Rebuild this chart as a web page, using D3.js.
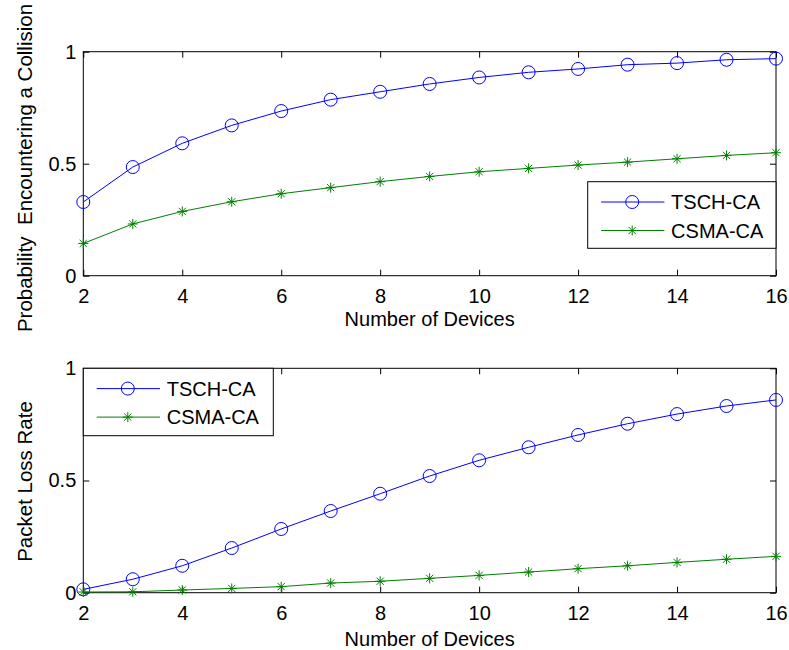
<!DOCTYPE html>
<html>
<head>
<meta charset="utf-8">
<script src="https://cdn.jsdelivr.net/npm/d3@7"></script>
<style>
  body { margin: 0; background: #fff; }
  svg { display: block; font-family: "Liberation Sans", Arial, sans-serif; }
</style>
</head>
<body>
<svg width="789" height="650"></svg>
<script>
const devices = [2, 3, 4, 5, 6, 7, 8, 9, 10, 11, 12, 13, 14, 15, 16];

// top panel: probability of encountering a collision
const collisionTsch = [0.329, 0.485, 0.591, 0.671, 0.735, 0.786, 0.821, 0.856, 0.885, 0.908, 0.923, 0.942, 0.949, 0.964, 0.969];
const collisionCsma = [0.144, 0.231, 0.287, 0.330, 0.366, 0.393, 0.420, 0.443, 0.464, 0.479, 0.494, 0.507, 0.522, 0.537, 0.549];

// bottom panel: packet loss rate
const lossTsch = [0.015, 0.060, 0.120, 0.199, 0.284, 0.364, 0.441, 0.520, 0.590, 0.648, 0.703, 0.753, 0.796, 0.832, 0.859];
const lossCsma = [0.003, 0.004, 0.012, 0.019, 0.027, 0.043, 0.051, 0.064, 0.077, 0.092, 0.107, 0.120, 0.135, 0.149, 0.162];

const xTicks = [2, 4, 6, 8, 10, 12, 14, 16];
const yTicks = [0, 0.5, 1];
const seriesNames = ['TSCH-CA', 'CSMA-CA'];

const svg = d3.select('svg');
const fontSize = 20;
const blue = '#0000ff';
const green = '#008000';

const left = 83.3, right = 776;

const panels = [
    { top: 51.7, bottom: 275.7, ylabel: 'Probability  Encountering a Collision', series: [collisionTsch, collisionCsma],
      ylabelY: 168, xlabelGap: 50.5,
      legend: { x0: 587.7, x1: 776, y0: 181.7, y1: 248.3 } },
    { top: 368.3, bottom: 592.7, ylabel: 'Packet Loss Rate', series: [lossTsch, lossCsma],
      ylabelY: 481.5, xlabelGap: 53,
      legend: { x0: 83.3, x1: 273.3, y0: 368.3, y1: 435.7 } }
];

const colors = [blue, green];

const drawMarker = (sel, i) => {
    if (i === 0) {
        sel.append('circle').attr('r', 6.5).attr('fill', 'none').attr('stroke', blue).attr('stroke-width', 1);
    } else {
        const s = 5, d = 3.6;
        const p = `M${-s},0L${s},0M0,${-s}L0,${s}M${-d},${-d}L${d},${d}M${-d},${d}L${d},${-d}`;
        sel.append('path').attr('d', p).attr('fill', 'none').attr('stroke', green).attr('stroke-width', 1);
    }
};

panels.forEach(p => {
    const xScale = d3.scaleLinear().domain([2, 16]).range([left, right]);
    const yScale = d3.scaleLinear().domain([0, 1]).range([p.bottom, p.top]);

    const g = svg.append('g');

    // axes with inward ticks on all four sides
    const styleAxis = a => {
        a.select('.domain').remove();
        a.selectAll('line').attr('stroke', '#000');
        a.selectAll('text').attr('font-size', fontSize).attr('fill', '#000').attr('font-family', '"Liberation Sans", Arial, sans-serif');
    };
    g.append('g').attr('transform', `translate(0,${p.bottom})`)
        .call(d3.axisBottom(xScale).tickValues(xTicks).tickFormat(d3.format('d')).tickSize(-6).tickPadding(13))
        .call(styleAxis);
    g.append('g').attr('transform', `translate(0,${p.top})`)
        .call(d3.axisTop(xScale).tickValues(xTicks).tickFormat('').tickSize(-6))
        .call(styleAxis);
    g.append('g').attr('transform', `translate(${left},0)`)
        .call(d3.axisLeft(yScale).tickValues(yTicks).tickFormat(d3.format('')).tickSize(-6).tickPadding(7))
        .call(styleAxis);
    g.append('g').attr('transform', `translate(${right},0)`)
        .call(d3.axisRight(yScale).tickValues(yTicks).tickFormat('').tickSize(-6))
        .call(styleAxis);

    g.append('rect')
        .attr('x', left).attr('y', p.top)
        .attr('width', right - left).attr('height', p.bottom - p.top)
        .attr('fill', 'none').attr('stroke', '#000').attr('stroke-width', 1);

    // series
    const line = d3.line().x((d, i) => xScale(devices[i])).y(d => yScale(d));
    p.series.forEach((vals, si) => {
        g.append('path').datum(vals)
            .attr('d', line)
            .attr('fill', 'none')
            .attr('stroke', colors[si])
            .attr('stroke-width', 1);
        g.selectAll(null).data(vals).enter().append('g')
            .attr('transform', (d, i) => `translate(${xScale(devices[i])},${yScale(d)})`)
            .each(function () { drawMarker(d3.select(this), si); });
    });

    // axis labels
    g.append('text')
        .attr('x', (left + right) / 2).attr('y', p.bottom + p.xlabelGap)
        .attr('text-anchor', 'middle').attr('font-size', fontSize)
        .text('Number of Devices');
    g.append('text')
        .attr('transform', `translate(32,${p.ylabelY}) rotate(-90)`)
        .attr('text-anchor', 'middle').attr('font-size', 20.5)
        .style('white-space', 'pre')
        .text(p.ylabel);

    // legend
    const L = p.legend;
    const lg = g.append('g');
    lg.append('rect')
        .attr('x', L.x0).attr('y', L.y0)
        .attr('width', L.x1 - L.x0).attr('height', L.y1 - L.y0)
        .attr('fill', '#fff').attr('stroke', '#000').attr('stroke-width', 1);
    const rowY = [L.y0 + 20.3, L.y0 + 48.8];
    seriesNames.forEach((name, si) => {
        const y = rowY[si];
        lg.append('line')
            .attr('x1', L.x0 + 13.4).attr('x2', L.x0 + 76.7)
            .attr('y1', y).attr('y2', y)
            .attr('stroke', colors[si]).attr('stroke-width', 1);
        const m = lg.append('g').attr('transform', `translate(${L.x0 + 44.5},${y})`);
        drawMarker(m, si);
        lg.append('text')
            .attr('x', L.x0 + 83.4).attr('y', y)
            .attr('dy', '0.36em')
            .attr('font-size', fontSize)
            .text(name);
    });
});
</script>
</body>
</html>
